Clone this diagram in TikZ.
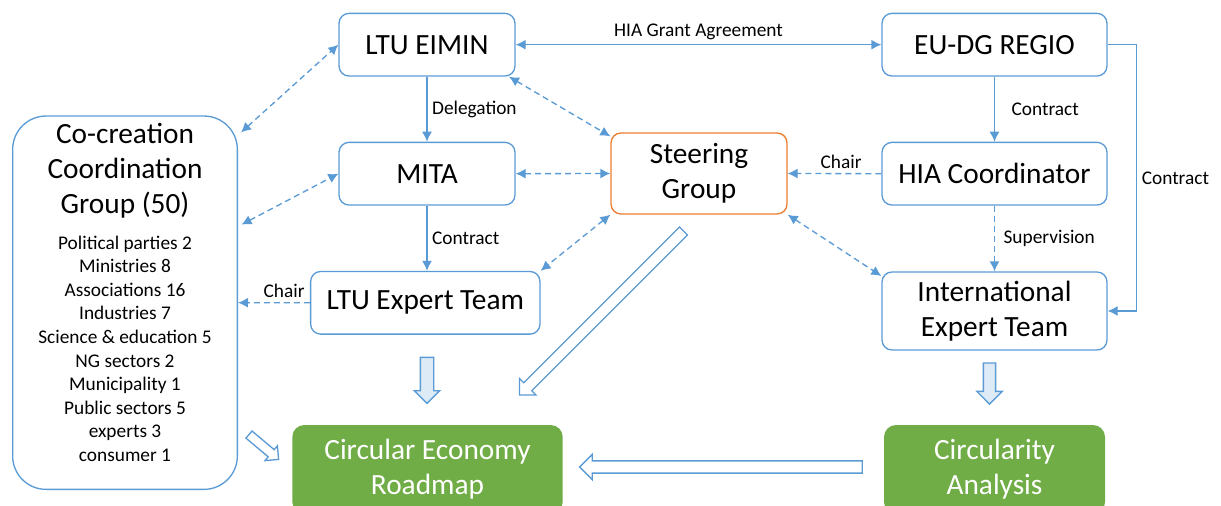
\documentclass[tikz,border=0pt]{standalone}
\usepackage{fontspec}
\setmainfont{Carlito}
\usepackage{tikz}
\usetikzlibrary{arrows.meta}
\usetikzlibrary{shapes.arrows}

\definecolor{linkblue}{RGB}{91,155,213}
\definecolor{sgorange}{RGB}{237,125,49}
\definecolor{outgreen}{RGB}{112,173,71}
\definecolor{arrowfill}{RGB}{221,235,247}

\begin{document}
\begin{tikzpicture}[x=0.75pt,y=-0.75pt,>={Latex[length=7.5pt,width=7.5pt]},
	box/.style={draw=linkblue,line width=1pt,rounded corners=7.5pt,minimum width=132pt,minimum height=47pt,align=center,font=\fontsize{22}{26.25}\selectfont},
	outbox/.style={fill=outgreen,rounded corners=9pt,text=white,minimum height=66.75pt,align=center,font=\fontsize{22}{26.25}\selectfont},
	lbl/.style={font=\fontsize{14.5}{17.7}\selectfont},
	link/.style={draw=linkblue,line width=1pt},
	dlink/.style={link,dash pattern=on 4.5pt off 3pt},
	fatarrow/.style={single arrow,draw=linkblue,line width=1pt,inner xsep=0pt,inner ysep=4.5pt,single arrow head extend=4.5pt}
	]
	\useasboundingbox (0,0) rectangle (1221,506);
	\clip (0,0) rectangle (1221,506);

	% boxes
	\node[box] (eimin) at (427,44.7) {LTU EIMIN};
	\node[box] (mita) at (427,173.7) {MITA};
	\node[box,minimum width=172pt] (ltuexp) at (425.3,302.8) {LTU Expert Team};
	\node[box,draw=sgorange,minimum height=60.75pt] (steer) at (699,173.5) {Steering\\Group};
	\node[box,minimum width=168.75pt] (eudg) at (994.5,44.7) {EU-DG REGIO};
	\node[box,minimum width=168.75pt] (hiac) at (994.5,173.7) {HIA Coordinator};
	\node[box,minimum width=168.75pt,minimum height=58.5pt] (intl) at (994.5,311) {International\\Expert Team};
	\node[box,minimum width=168.5pt,minimum height=280pt,rounded corners=25pt] (ccg) at (125,302.7) {};
	\node[anchor=north,inner sep=0pt,align=center,font=\fontsize{22}{26.25}\selectfont] (ccgtitle) at (125,123) {Co-creation\\Coordination\\Group (50)};
	\node[lbl,anchor=north,inner sep=0pt,align=center] (ccglist) at (125,235.5) {Political parties 2\\Ministries 8\\Associations 16\\Industries 7\\Science \& education 5\\NG sectors 2\\Municipality 1\\Public sectors 5\\experts 3\\consumer 1};
	\node[outbox,minimum width=202.8pt] (roadmap) at (427.5,469.5) {Circular Economy\\Roadmap};
	\node[outbox,minimum width=165.75pt] (circ) at (994.5,469.5) {Circularity\\Analysis};

	% solid links
	\draw[link,<->] (eimin.east) -- (eudg.west) node[lbl,midway,above] {HIA Grant Agreement};
	\draw[link,->] (eimin) -- (mita) node[lbl,midway,right] {Delegation};
	\draw[link,->] (mita) -- (mita |- ltuexp.north) node[lbl,midway,right] {Contract};
	\draw[link,->] (eudg) -- (hiac) node[lbl,midway,right,xshift=9pt] {Contract};
	\draw[link,->] (eudg.east) -- ++(29,0) |- (intl.east) node[lbl,pos=0.25,right] {Contract};

	% dashed links
	\draw[dlink,->] (hiac.west) -- (steer.east) node[lbl,pos=0.43,above] {Chair};
	\draw[dlink,->] (hiac) -- (hiac |- intl.north) node[lbl,midway,right,xshift=3pt] {Supervision};
	\draw[dlink,<->] ([xshift=-5pt]eimin.south east) -- ([yshift=-3pt]steer.north west);
	\draw[dlink,<->] (mita.east) -- (steer.west);
	\draw[dlink,<->] (steer.south west) -- (ltuexp.north east);
	\draw[dlink,<->] (steer.south east) -- ([yshift=-3.5pt]intl.north west);
	\draw[dlink,<->,shorten <=3pt] (ccg.56) -- (eimin.west);
	\draw[dlink,<->,shorten <=3pt] (ccg.34) -- (mita.west);
	\draw[dlink,->] (ltuexp.west) -- (ccg.east) node[lbl,pos=0.36,above] {Chair};

	% block arrows
	\node[fatarrow,fill=arrowfill,rotate=-90,minimum height=34.5pt] (ltuout) at (427,377) {};
	\node[fatarrow,fill=arrowfill,rotate=-90,minimum height=30.75pt,inner ysep=4.1pt,single arrow head extend=4.9pt] (intlout) at (989.5,380.5) {};
	\node[fatarrow,fill=white,rotate=-135,minimum height=174pt,inner ysep=3.75pt] (steerout) at (603.5,311) {};
	\node[fatarrow,fill=white,rotate=180,minimum height=212pt,inner ysep=4.1pt,single arrow head extend=4.9pt] (circout) at (724,467) {};
	\node[fatarrow,fill=white,rotate=-40,minimum height=29pt,inner ysep=3pt,single arrow head extend=3.75pt] (ccgout) at (262,445.5) {};
\end{tikzpicture}
\end{document}
